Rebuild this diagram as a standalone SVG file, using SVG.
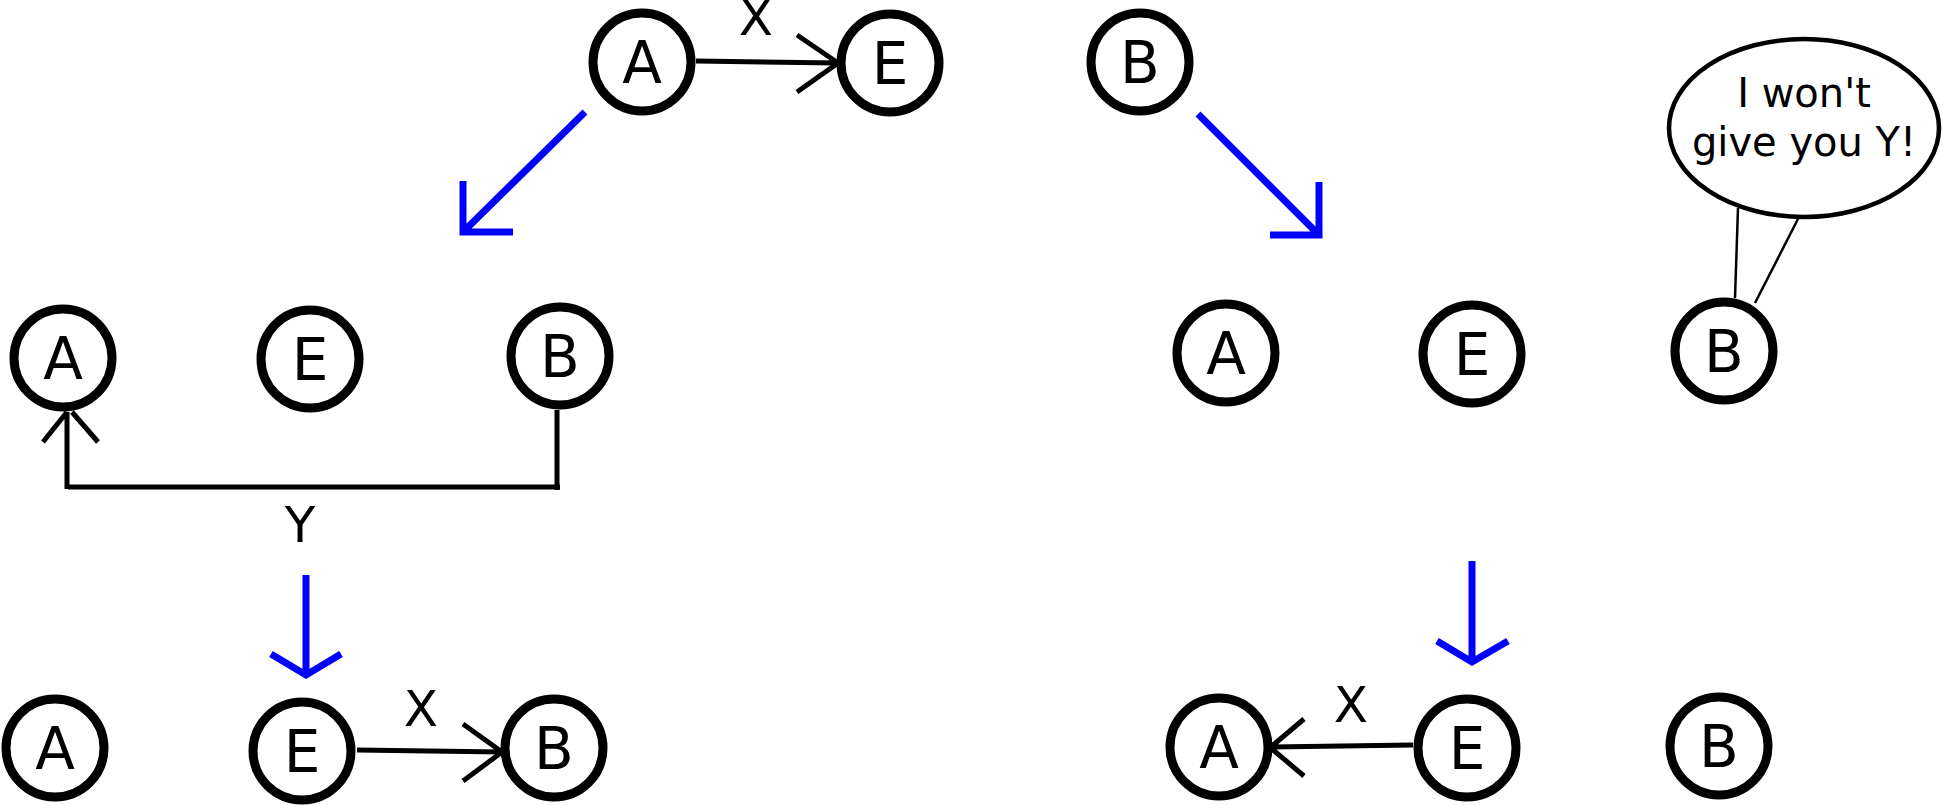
<svg xmlns="http://www.w3.org/2000/svg" width="1943" height="805" viewBox="0 0 1943 805">
<style>
.node circle{fill:#fff;stroke:#000;stroke-width:9}
.node text{font-family:"DejaVu Sans","Liberation Sans",sans-serif;font-size:58px;text-anchor:middle;fill:#000}
.lbl{font-family:"DejaVu Sans","Liberation Sans",sans-serif;font-size:50px;text-anchor:middle;fill:#000}
.edge{fill:none;stroke:#000;stroke-width:5}
.thin{fill:none;stroke:#000;stroke-width:2.5}
.blue{fill:none;stroke:#0000ff;stroke-width:7}
.bubble text{font-family:"DejaVu Sans","Liberation Sans",sans-serif;font-size:40px;text-anchor:middle;fill:#000}
</style>
<rect width="1943" height="805" fill="#fff"/>
<g id="connectors">
  <path class="edge" d="M696,61 L838,63 M797,35 L838,63 L797,92"/>
  <path class="edge" d="M557,410 L557,490 M560,487 L68,487 M67,489 L67,412 M43,442 L67,412 M98,442 L72,412"/>
  <path class="edge" d="M357,750 L502,752 M463,724 L502,752 L463,781"/>
  <path class="edge" d="M1413,745 L1271,747 M1304,719 L1272,746 M1304,776 L1272,749"/>
  <path class="thin" d="M1738,208 L1735,298 M1799,217 L1755,303"/>
  <path class="blue" d="M585,112 L463,232 M463,181 L463,232 L513,232"/>
  <path class="blue" d="M1198,114 L1319,235 M1319,182 L1319,235 L1270,235"/>
  <path class="blue" d="M306,575 L306,675 M271,654 L306,675 L341,654"/>
  <path class="blue" d="M1472,561 L1472,662 M1437,641 L1472,662 L1508,641"/>
</g>
<text class="lbl" x="756" y="35">X</text>
<text class="lbl" x="300" y="542">Y</text>
<text class="lbl" x="421" y="726">X</text>
<text class="lbl" x="1351" y="722">X</text>
<g id="top-A" class="node"><circle cx="642" cy="62" r="49"/><text x="642" y="83">A</text></g>
<g id="top-E" class="node"><circle cx="890" cy="63" r="49"/><text x="890" y="84">E</text></g>
<g id="top-B" class="node"><circle cx="1140" cy="62" r="49"/><text x="1140" y="83">B</text></g>
<g id="ml-A" class="node"><circle cx="63" cy="358" r="49"/><text x="63" y="379">A</text></g>
<g id="ml-E" class="node"><circle cx="310" cy="359" r="49"/><text x="310" y="380">E</text></g>
<g id="ml-B" class="node"><circle cx="560" cy="356" r="49"/><text x="560" y="377">B</text></g>
<g id="bl-A" class="node"><circle cx="55" cy="748" r="49"/><text x="55" y="769">A</text></g>
<g id="bl-E" class="node"><circle cx="302" cy="751" r="49"/><text x="302" y="772">E</text></g>
<g id="bl-B" class="node"><circle cx="554" cy="748" r="49"/><text x="554" y="769">B</text></g>
<g id="mr-A" class="node"><circle cx="1226" cy="353" r="49"/><text x="1226" y="374">A</text></g>
<g id="mr-E" class="node"><circle cx="1472" cy="354" r="49"/><text x="1472" y="375">E</text></g>
<g id="mr-B" class="node"><circle cx="1724" cy="351" r="49"/><text x="1724" y="372">B</text></g>
<g id="br-A" class="node"><circle cx="1219" cy="747" r="49"/><text x="1219" y="768">A</text></g>
<g id="br-E" class="node"><circle cx="1467" cy="748" r="49"/><text x="1467" y="769">E</text></g>
<g id="br-B" class="node"><circle cx="1719" cy="746" r="49"/><text x="1719" y="767">B</text></g>
<g id="bubble" class="bubble">
  <ellipse cx="1804" cy="128" rx="135" ry="89" fill="#fff" stroke="#000" stroke-width="4.5"/>
  <text x="1804" y="107">I won't</text>
  <text x="1804" y="156">give you Y!</text>
</g>
</svg>
